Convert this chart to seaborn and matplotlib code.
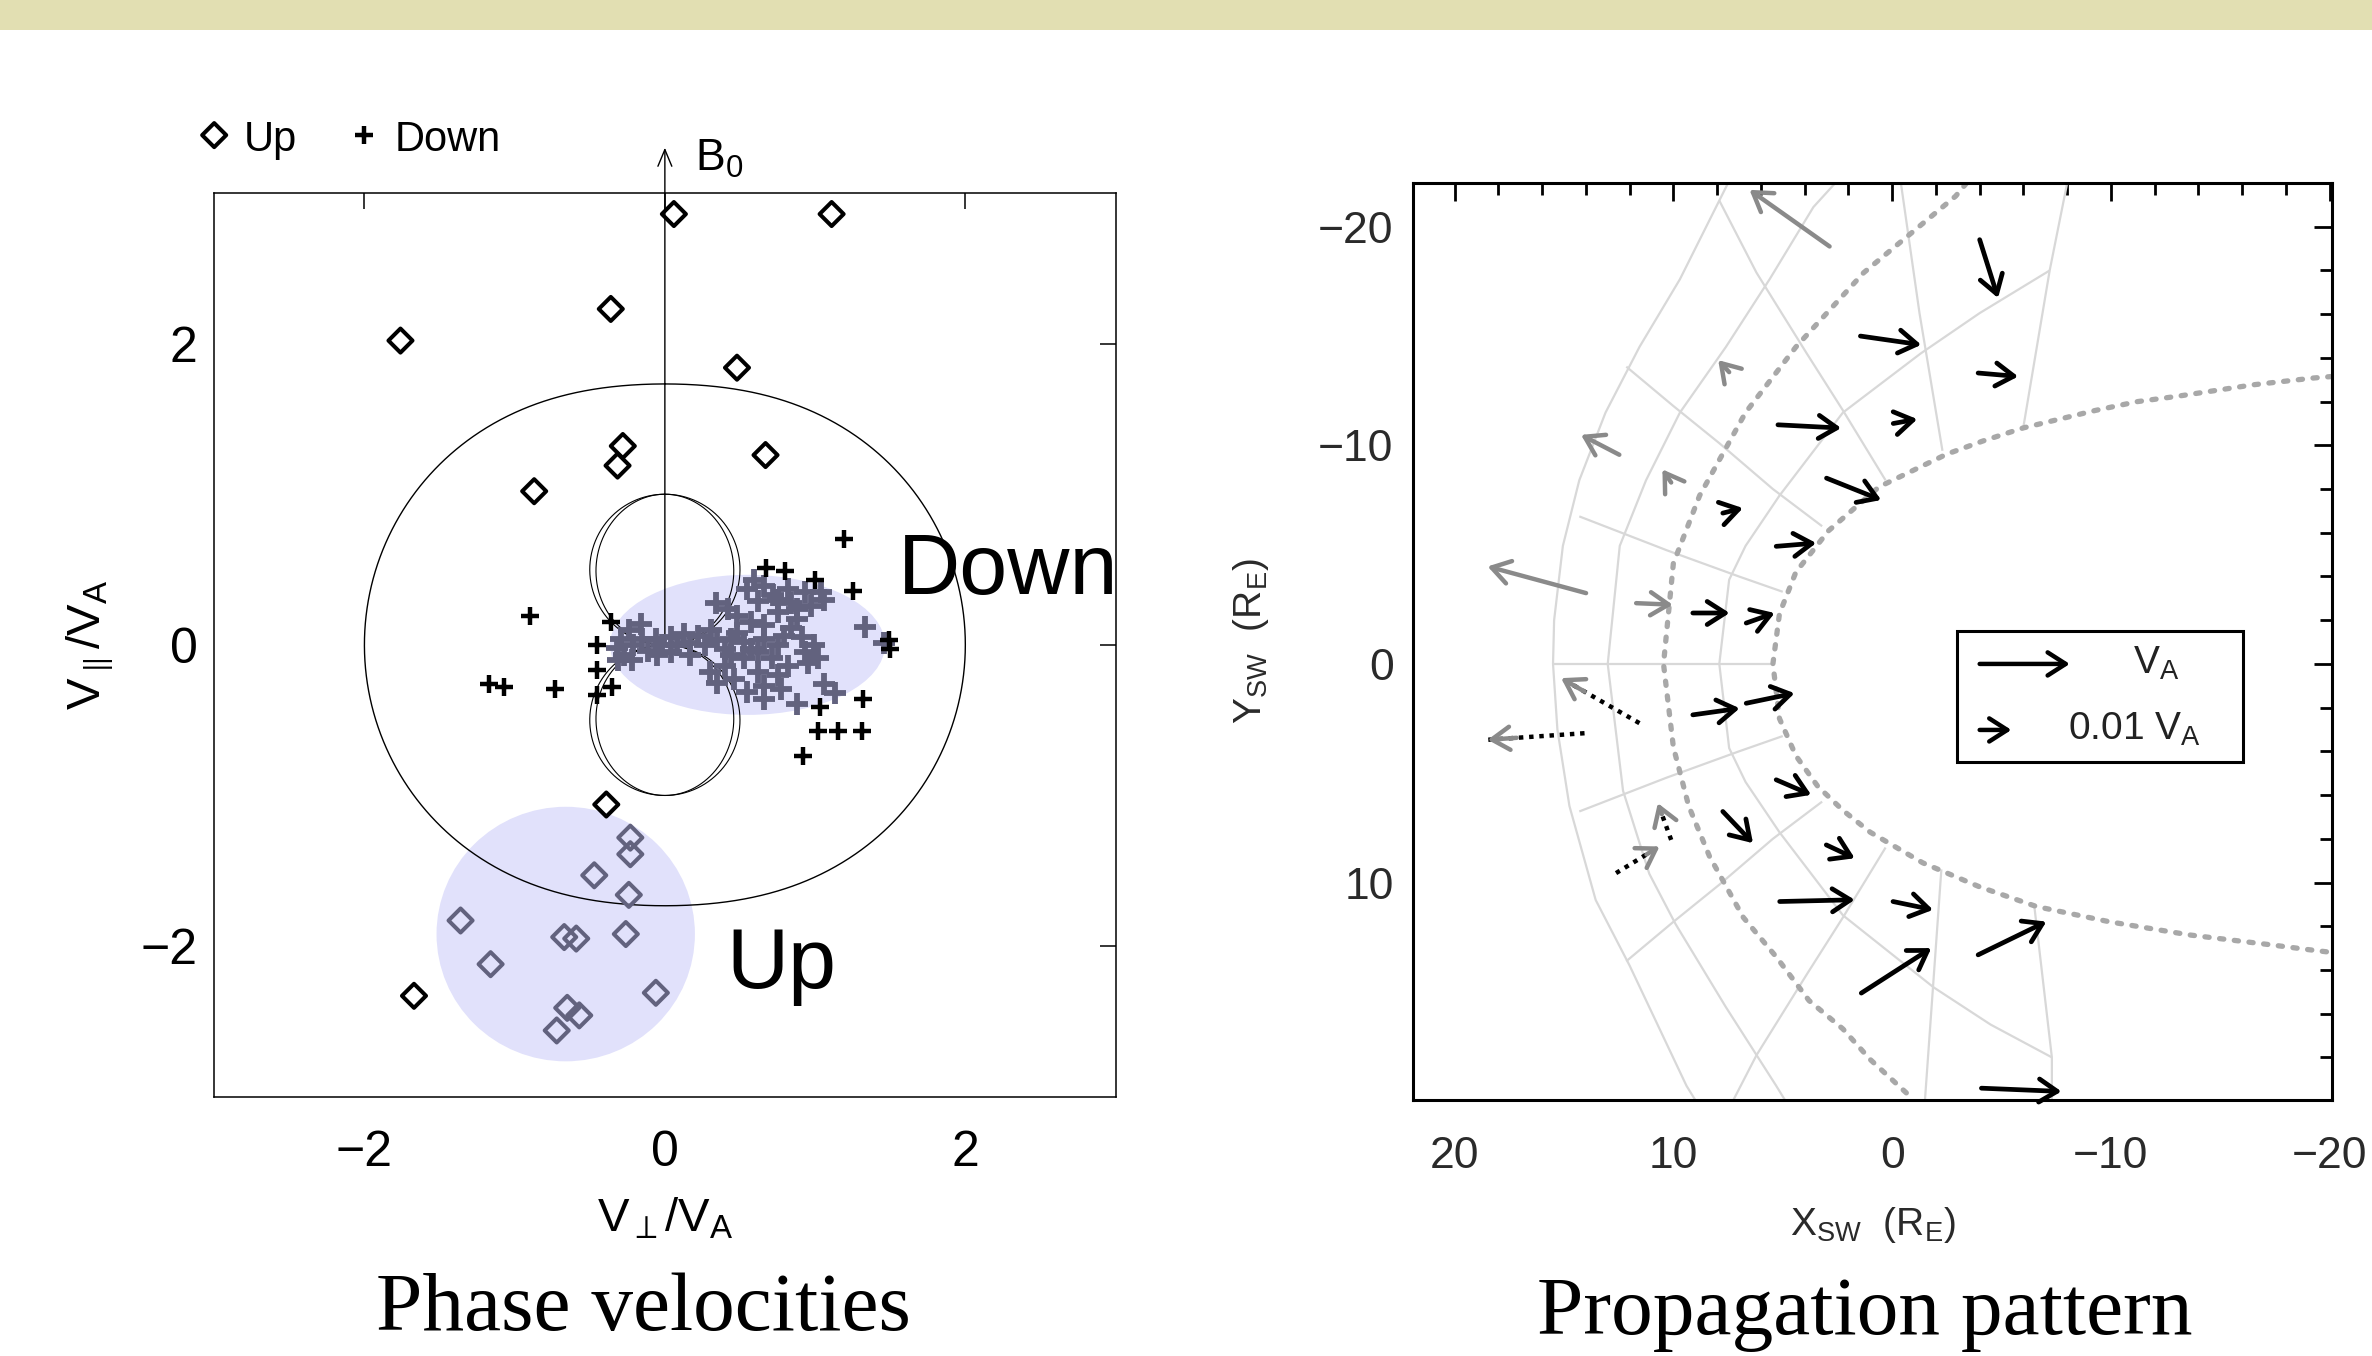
import numpy as np
import matplotlib
matplotlib.use("Agg")
import matplotlib.pyplot as plt
from matplotlib.patches import Ellipse, Rectangle
from matplotlib.ticker import MultipleLocator, FixedLocator
import seaborn as sns

# ======================= LEFT PANEL DATA (V_perp/V_A, V_par/V_A) =======================
up_black_x = [0.06, 1.11, -0.36, -1.76, 0.48, -0.28, -0.315, 0.67, -0.87, -0.39, -1.67]
up_black_y = [2.86, 2.86, 2.23, 2.02, 1.84, 1.32, 1.19, 1.26, 1.02, -1.06, -2.33]

up_gray_x = [-0.23, -0.23, -0.47, -0.24, -1.36, -0.67, -0.59, -0.26, -1.16, -0.06, -0.65, -0.57, -0.72]
up_gray_y = [-1.28, -1.39, -1.53, -1.66, -1.83, -1.94, -1.95, -1.92, -2.12, -2.31, -2.41, -2.46, -2.56]

down_black_x = [1.19, 0.67, 0.80, 1.00, 1.25, -0.36, -0.90, -0.45, -0.45, -0.35, -0.45,
                -0.73, -1.17, -1.07, 1.49, 1.50, 1.32, 1.03, 1.02, 1.15, 1.31, 0.92]
down_black_y = [0.70, 0.51, 0.49, 0.43, 0.36, 0.15, 0.19, 0.00, -0.17, -0.28, -0.33,
                -0.29, -0.26, -0.28, 0.03, -0.03, -0.36, -0.41, -0.57, -0.57, -0.57, -0.74]

down_gray_x = [-0.32, -0.29, -0.27, -0.24, -0.21, -0.16, -0.15, -0.11, -0.06, -0.02, 0.04, 0.08,
               0.13, 0.17, 0.22, 0.27, 0.31, 0.35, 0.40, 0.44, -0.31, -0.22, -0.05, 0.17, 0.04,
               0.34, 0.42, 0.48, 0.55, 0.59, 0.62, 0.66, 0.72, 0.75, 0.82, 0.84, 0.88, 0.93, 0.97,
               1.04, 1.06, 0.57, 0.66, 0.84, 0.91, 0.99, 1.02, 0.93, 1.33, 1.46, 0.48, 0.53, 0.75,
               0.88, 0.79,
               0.30, 0.40, 0.35, 0.46, 0.53, 0.55, 0.62, 0.66, 0.71, 0.75, 0.66, 0.77, 0.82, 0.57,
               0.75, 0.66, 1.06, 1.13, 0.88, 0.62, 0.44, 0.95]
down_gray_y = [-0.02, 0.04, -0.07, 0.10, 0.00, 0.14, 0.04, -0.04, 0.04, 0.00, 0.05, 0.00,
               0.07, 0.01, 0.06, 0.00, 0.10, 0.03, -0.03, 0.04, -0.10, -0.10, -0.07, -0.07, -0.05,
               0.28, 0.24, 0.19, 0.37, 0.43, 0.29, 0.39, 0.33, 0.22, 0.37, 0.28, 0.17, 0.35, 0.26,
               0.35, 0.30, 0.15, 0.13, 0.11, 0.05, 0.00, -0.09, -0.05, 0.12, 0.01, 0.08, 0.02, 0.30,
               0.24, 0.06,
               -0.18, -0.14, -0.25, -0.23, -0.09, -0.31, -0.18, -0.27, -0.09, -0.20, -0.36, -0.29,
               -0.14, -0.03, 0.00, 0.04, -0.26, -0.32, -0.39, -0.05, -0.07, -0.12]

# shaded regions: centre x, centre y, semi-axis x, semi-axis y
down_region = [0.55, 0.0, 0.915, 0.465]
up_region = [-0.66, -1.92, 0.86, 0.845]

# squared sound speed (in V_A units) of the Friedrichs diagram
CS2 = 3.0

# ======================= RIGHT PANEL DATA (X_SW, Y_SW in R_E) =======================
bs_x = [-3.4, -2.9, 1.3, 4.4, 6.7, 8.8, 10.0, 10.45, 10.0, 9.3, 8.35, 6.8, 5.3, 3.8, 2.25, 1.0, -1.0]
bs_y = [-22.0, -21.4, -17.9, -14.5, -11.5, -7.7, -4.6, 0.0, 3.8, 6.5, 8.8, 11.6, 13.4, 15.4, 16.7, 18.1, 19.95]

mp_x = [-20.1, -19.25, -16.5, -13.0, -11.2, -9.3, -6.0, -4.15, -2.5, 0.6, 2.9, 4.4, 5.15, 5.45,
        5.15, 4.4, 3.4, 2.25, 1.0, -1.4, -4.0, -6.6, -9.95, -13.6, -17.3, -19.1, -20.1]
mp_y = [-13.15, -13.08, -12.77, -12.24, -12.0, -11.6, -10.8, -10.2, -9.6, -8.1, -6.1, -4.2, -2.3, 0.0,
        2.5, 4.2, 5.6, 6.7, 7.7, 9.1, 10.2, 11.1, 11.8, 12.4, 12.85, 13.08, 13.2]

grid_lines = {
    "g1": ([7.5, 9.7, 11.55, 13.1, 14.3, 15.05, 15.45, 15.5, 15.3, 14.75, 13.55, 12.0, 9.4, 9.0],
           [-22.0, -17.6, -14.5, -11.5, -8.4, -5.4, -2.0, 0.0, 3.0, 6.5, 10.8, 13.8, 19.3, 19.95]),
    "g2": ([2.6, 3.6, 5.6, 7.6, 9.7, 11.25, 12.45, 13.0, 12.3, 11.1, 9.9, 7.6, 5.3, 4.9],
           [-22.0, -20.9, -17.6, -14.5, -11.5, -8.4, -5.4, 0.0, 5.8, 9.6, 11.9, 15.7, 19.3, 19.95]),
    "g3": ([-7.2, -4.0, -1.3, 2.25, 5.15, 6.7, 7.45, 7.9, 7.45, 6.7, 5.15, 2.25, -1.9, -4.5, -7.3],
           [-18.0, -16.05, -14.2, -11.5, -7.7, -5.4, -3.85, 0.0, 3.85, 5.4, 7.7, 11.5, 14.8, 16.5, 18.0]),
    "r1u": ([7.9, 6.2, 3.9, 2.25, 0.3], [-21.2, -17.9, -14.2, -11.6, -8.4]),
    "r1l": ([7.9, 6.2, 3.9, 2.25, 0.3], [21.2, 17.9, 14.2, 11.6, 8.4]),
    "r2u": ([12.15, 10.0, 7.9, 5.45, 3.2], [-13.6, -11.8, -10.1, -8.0, -6.3]),
    "r2l": ([12.15, 10.0, 7.9, 5.45, 3.2], [13.6, 11.8, 10.1, 8.0, 6.3]),
    "r3u": ([14.3, 10.3, 7.0, 5.0], [-6.75, -5.2, -4.0, -3.3]),
    "r3l": ([14.3, 10.3, 7.0, 5.0], [6.75, 5.2, 4.0, 3.3]),
    "r4": ([15.5, 5.45], [0.0, 0.0]),
    "r5u": ([-0.4, -1.25, -2.3], [-22.0, -16.05, -9.75]),
    "r5l": ([-2.25, -1.5], [9.4, 19.95]),
    "r6u": ([-8.0, -7.2, -6.0], [-22.0, -18.0, -10.85]),
    "r6l": ([-6.5, -7.3, -7.3], [11.1, 18.0, 19.95]),
}

# solid black wave vectors: tail (x0,y0) -> head (x1,y1)
blk_x0 = [5.22, 3.0, 7.74, 5.3, 9.11, 6.67, -4.0, 1.45, -3.93, -0.05, 9.11, 6.67, 5.3, 7.74, 3.01, 5.14, 1.41, -0.04, -3.93, -4.08]
blk_y0 = [-10.94, -8.5, -6.9, -5.38, -2.33, -1.87, -19.41, -15.0, -13.31, -11.0, 2.33, 1.80, 5.3, 6.75, 8.28, 10.87, 15.06, 10.87, 13.31, 19.41]
blk_x1 = [2.33, 0.5, 6.82, 3.47, 7.43, 5.37, -4.84, -1.33, -5.76, -1.15, 6.97, 4.46, 3.7, 6.36, 1.71, 1.71, -1.79, -1.87, -7.05, -7.74]
blk_y1 = [-10.79, -7.5, -7.13, -5.53, -2.33, -2.33, -16.74, -14.6, -13.15, -11.2, 2.03, 1.34, 5.99, 8.2, 8.89, 10.79, 13.0, 11.25, 11.79, 19.56]

# grey wave vectors
gry_x0 = [2.86, 12.47, 7.45, 10.1, 13.99, 11.7]
gry_y0 = [-19.1, -9.57, -13.35, -8.3, -3.24, -2.78]
gry_x1 = [6.52, 14.22, 7.95, 10.5, 18.49, 10.03]
gry_y1 = [-21.69, -10.48, -13.9, -8.9, -4.46, -2.71]

# dotted wave vectors (black dotted shaft, grey head)
dot_x0 = [11.55, 14.06, 12.62, 10.1]
dot_y0 = [2.71, 3.17, 9.57, 8.05]
dot_x1 = [15.13, 18.49, 10.63, 10.71]
dot_y1 = [0.65, 3.47, 8.35, 6.37]

# legend key arrows
key_x0 = [-4.0, -4.0]
key_x1 = [-8.12, -5.45]
key_y = [0.0, 3.02]
key_labels = [r"V$_{\rm A}$", r"0.01 V$_{\rm A}$"]

# ======================= STYLE =======================
sns.set_style("white")
plt.rcParams["font.family"] = ["Liberation Sans", "DejaVu Sans"]
plt.rcParams["mathtext.fontset"] = "custom"
plt.rcParams["mathtext.rm"] = "Liberation Sans"
plt.rcParams["mathtext.it"] = "Liberation Sans:italic"
plt.rcParams["mathtext.bf"] = "Liberation Sans:bold"
plt.rcParams["mathtext.sf"] = "Liberation Sans"
plt.rcParams["axes.unicode_minus"] = True
plt.rcParams["text.color"] = "black"
plt.rcParams["axes.labelcolor"] = "black"
plt.rcParams["xtick.color"] = "black"
plt.rcParams["ytick.color"] = "black"

fig = plt.figure(figsize=(23.72, 13.56), dpi=100)
fig.patch.set_facecolor("white")
fig.add_artist(Rectangle((0, 1 - 30 / 1356), 1, 30 / 1356, transform=fig.transFigure,
                         facecolor="#e2dfb2", edgecolor="none", zorder=0))

SHADE = "#e1e1fb"
GRAY_PT = "#62627e"

# ======================= LEFT PANEL =======================
axL = fig.add_axes([0.0903, 0.1912, 0.3800, 0.6665])
axL.set_facecolor("white")
axL.set_xlim(-3, 3)
axL.set_ylim(-3, 3)

for reg in (down_region, up_region):
    axL.add_patch(Ellipse((reg[0], reg[1]), 2 * reg[2], 2 * reg[3],
                          facecolor=SHADE, edgecolor="none", zorder=1))

theta = np.linspace(0, 2 * np.pi, 2001)
disc = np.sqrt((1 + CS2) ** 2 - 4 * CS2 * np.cos(theta) ** 2)
v_fast = np.sqrt(0.5 * ((1 + CS2) + disc))
v_slow = np.sqrt(np.clip(0.5 * ((1 + CS2) - disc), 0, None))
v_alf = np.abs(np.cos(theta))
for v, lw in ((v_fast, 1.0), (v_slow, 0.8), (v_alf, 0.8)):
    axL.plot(v * np.sin(theta), v * np.cos(theta), color="k", lw=lw, zorder=2)

# B0 direction
axL.annotate("", xy=(0, 3.30), xytext=(0, 0),
             arrowprops=dict(arrowstyle="->,head_length=0.6,head_width=0.25", color="k",
                             lw=1.0, mutation_scale=20, shrinkA=0, shrinkB=0),
             annotation_clip=False, zorder=2)
axL.text(0.2, 3.146, r"B$_0$", fontsize=32, ha="left", va="baseline", clip_on=False)

# data points
sns.scatterplot(x=down_gray_x, y=down_gray_y, marker="+", s=260, color=GRAY_PT,
                linewidth=4.2, ax=axL, zorder=3, legend=False)
sns.scatterplot(x=down_black_x, y=down_black_y, marker="+", s=170, color="k",
                linewidth=3.2, ax=axL, zorder=4, legend=False)
sns.scatterplot(x=up_gray_x, y=up_gray_y, marker="D", s=150, color=GRAY_PT,
                facecolors="none", edgecolor=GRAY_PT, linewidth=2.9, ax=axL, zorder=3, legend=False)
sns.scatterplot(x=up_black_x, y=up_black_y, marker="D", s=150, color="k",
                facecolors="none", edgecolor="k", linewidth=2.9, ax=axL, zorder=4, legend=False)

# legend above the panel
axL.scatter([-3.0], [3.384], marker="D", s=150, facecolors="none", edgecolors="k",
            linewidths=2.9, clip_on=False, zorder=5)
axL.text(-2.80, 3.28, "Up", fontsize=30, ha="left", va="baseline", clip_on=False)
axL.scatter([-2.0], [3.384], marker="+", s=170, color="k", linewidths=3.2, clip_on=False, zorder=5)
axL.text(-1.80, 3.28, "Down", fontsize=30, ha="left", va="baseline", clip_on=False)

# region labels
axL.text(1.55, 0.34, "Down", fontsize=62, ha="left", va="baseline", color="black")
axL.text(0.41, -2.275, "Up", fontsize=62, ha="left", va="baseline", color="black")

axL.set_xticks([-2, 0, 2])
axL.set_yticks([-2, 0, 2])
axL.tick_params(direction="in", length=11.5, width=1.1, top=True, right=True,
                labelsize=36, colors="k")
axL.tick_params(axis="x", pad=24)
axL.tick_params(axis="y", pad=12)
for sp in axL.spines.values():
    sp.set_linewidth(1.1)
    sp.set_color("k")
axL.set_xlabel(r"V$_{\perp}$/V$_{\rm A}$", fontsize=34, labelpad=14)
axL.set_ylabel(r"V$_{\parallel}$/V$_{\rm A}$", fontsize=34, labelpad=18)

# ======================= RIGHT PANEL =======================
axR = fig.add_axes([0.5957, 0.1888, 0.3874, 0.6762])
axR.set_facecolor("white")
axR.set_xlim(21.9, -20.1)
axR.set_ylim(19.95, -22.0)

for name, (gx, gy) in grid_lines.items():
    axR.plot(gx, gy, color="#d8d8d8", lw=1.6, zorder=1, solid_capstyle="butt")

for cx, cy in ((bs_x, bs_y), (mp_x, mp_y)):
    axR.plot(cx, cy, color="#a8a8a8", lw=3.8, ls=(0, (0.8, 2.0)),
             dash_capstyle="round", zorder=2)

HEAD = "->,head_length=0.5,head_width=0.32"
for x0, y0, x1, y1 in zip(blk_x0, blk_y0, blk_x1, blk_y1):
    axR.annotate("", xy=(x1, y1), xytext=(x0, y0),
                 arrowprops=dict(arrowstyle=HEAD, color="k", lw=3.4, mutation_scale=26,
                                 shrinkA=0, shrinkB=0), zorder=4)
for x0, y0, x1, y1 in zip(gry_x0, gry_y0, gry_x1, gry_y1):
    axR.annotate("", xy=(x1, y1), xytext=(x0, y0),
                 arrowprops=dict(arrowstyle=HEAD, color="#8a8a8a", lw=3.2, mutation_scale=26,
                                 shrinkA=0, shrinkB=0), zorder=3)
for x0, y0, x1, y1 in zip(dot_x0, dot_y0, dot_x1, dot_y1):
    axR.plot([x0, x1], [y0, y1], color="k", lw=3.2, ls=(0, (1.0, 1.3)), zorder=3)
    xm, ym = x0 + 0.7 * (x1 - x0), y0 + 0.7 * (y1 - y0)
    axR.annotate("", xy=(x1, y1), xytext=(xm, ym),
                 arrowprops=dict(arrowstyle=HEAD, color="#8a8a8a", lw=3.2, mutation_scale=26,
                                 shrinkA=0, shrinkB=0), zorder=4)

# key box
axR.add_patch(Rectangle((-16.05, -1.49), 13.08, 5.96, facecolor="white", edgecolor="k",
                        lw=2.2, zorder=5))
for x0, x1, y, lab, tx in zip(key_x0, key_x1, key_y, key_labels, [-11.0, -8.04]):
    axR.annotate("", xy=(x1, y), xytext=(x0, y),
                 arrowprops=dict(arrowstyle=HEAD, color="k", lw=3.2, mutation_scale=26,
                                 shrinkA=0, shrinkB=0), zorder=6)
    axR.text(tx, y + 0.45, lab, fontsize=28, ha="left", va="baseline", color="#222222", zorder=6)

axR.xaxis.set_major_locator(FixedLocator([20, 10, 0, -10, -20]))
axR.yaxis.set_major_locator(FixedLocator([-20, -10, 0, 10, 20]))
axR.xaxis.set_minor_locator(MultipleLocator(2))
axR.yaxis.set_minor_locator(MultipleLocator(2))
axR.tick_params(which="both", direction="in", top=True, right=True, width=2.0,
                labelsize=32, labelcolor="#2a2a2a", color="k")
axR.tick_params(which="major", length=13)
axR.tick_params(which="minor", length=8.5)
axR.tick_params(axis="x", which="both", pad=26)
axR.tick_params(axis="y", which="both", pad=14)
for sp in axR.spines.values():
    sp.set_linewidth(2.2)
    sp.set_color("k")
axR.set_xlabel(r"X$_{\rm SW}$  (R$_{\rm E}$)", fontsize=28, labelpad=20, color="#2a2a2a")
axR.set_ylabel(r"Y$_{\rm SW}$  (R$_{\rm E}$)", fontsize=28, labelpad=34, color="#2a2a2a")

# ======================= CAPTIONS =======================
fig.text(0.2711, 0.019, "Phase velocities", fontfamily="Liberation Serif", fontsize=60,
         ha="center", va="baseline", color="black")
fig.text(0.786, 0.0165, "Propagation pattern", fontfamily="Liberation Serif", fontsize=60,
         ha="center", va="baseline", color="black")

fig.savefig("out.png", dpi=100, facecolor="white")
